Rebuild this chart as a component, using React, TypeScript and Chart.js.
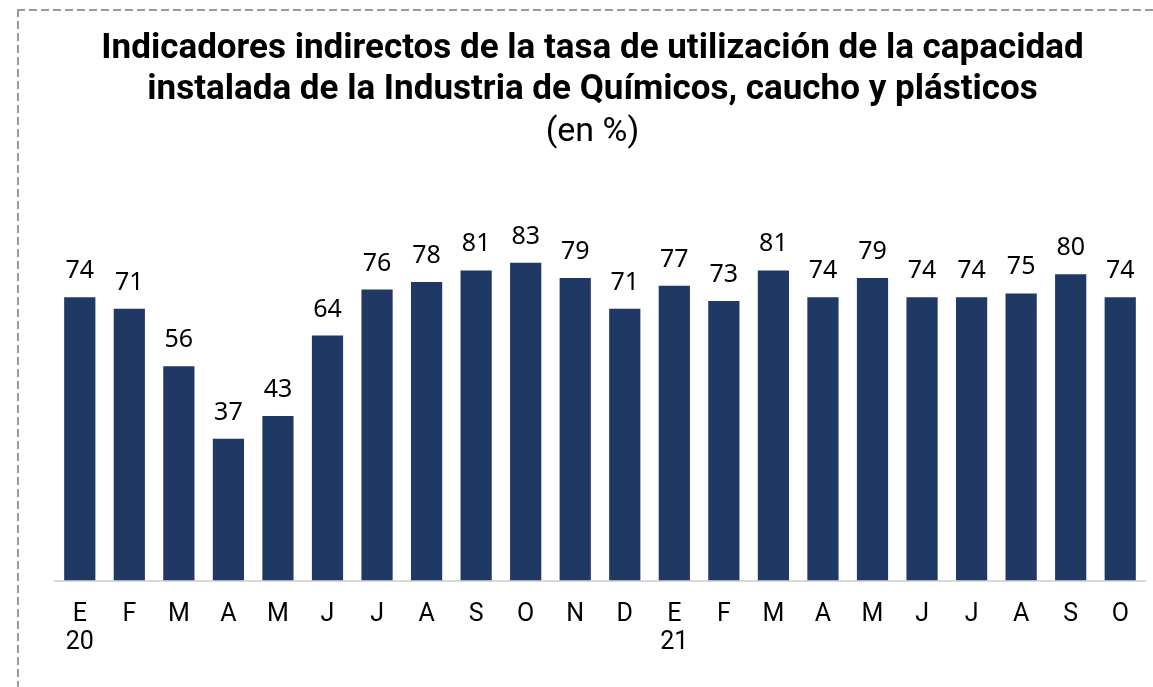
import React, { useEffect, useRef } from "react";
import { Chart, registerables } from "chart.js";

Chart.register(...registerables);

const monthLabels: string[][] = [
  ["E", "20"], ["F"], ["M"], ["A"], ["M"], ["J"], ["J"], ["A"], ["S"], ["O"], ["N"], ["D"],
  ["E", "21"], ["F"], ["M"], ["A"], ["M"], ["J"], ["J"], ["A"], ["S"], ["O"],
];
const values: number[] = [74, 71, 56, 37, 43, 64, 76, 78, 81, 83, 79, 71, 77, 73, 81, 74, 79, 74, 74, 75, 80, 74];
const titleLines: string[] = [
  "Indicadores indirectos de la tasa de utilización de la capacidad",
  "instalada de la Industria de Químicos, caucho y plásticos",
];
const subtitleText = "(en %)";

const barLabelPlugin = {
  id: "barLabels",
  afterDatasetsDraw(chart: any) {
    const ctx = chart.ctx;
    const meta = chart.getDatasetMeta(0);
    ctx.save();
    ctx.font = "25px 'Noto Sans', Roboto, sans-serif";
    ctx.fillStyle = "#000000";
    ctx.textAlign = "center";
    ctx.textBaseline = "alphabetic";
    meta.data.forEach((bar: any, i: number) => {
      const v = chart.data.datasets[0].data[i];
      ctx.fillText(String(Math.round(v)), bar.x, bar.y - 19);
    });
    ctx.restore();
  },
};

export default function App() {
  const ref = useRef<HTMLCanvasElement>(null);
  useEffect(() => {
    if (!ref.current) return;
    const chart = new Chart(ref.current, {
      type: "bar",
      data: {
        labels: monthLabels,
        datasets: [
          {
            data: values,
            backgroundColor: "#203864",
            categoryPercentage: 1,
            barPercentage: 0.63,
          },
        ],
      },
      options: {
        animation: false,
        responsive: false,
        layout: { padding: { left: 21, right: 22, top: 0, bottom: 10 } },
        plugins: {
          legend: { display: false },
          tooltip: { enabled: false },
          title: {
            display: true,
            text: titleLines,
            color: "#000000",
            font: { family: "Roboto", size: 35, weight: "bold", lineHeight: 1.17 },
            padding: { top: 18, bottom: 0 },
          },
          subtitle: {
            display: true,
            text: subtitleText,
            color: "#000000",
            font: { family: "Roboto", size: 34, weight: "normal", lineHeight: 1.2 },
            padding: { top: 1, bottom: 45 },
          },
        },
        scales: {
          x: {
            grid: { display: false, drawTicks: false },
            border: { display: true, color: "#d9d9d9", width: 2 },
            ticks: {
              color: "#000000",
              font: { family: "Roboto", size: 25, lineHeight: 1.15 },
              padding: 19.5,
              maxRotation: 0,
              autoSkip: false,
            },
          },
          y: {
            display: true,
            min: 0,
            max: 100,
            grid: { display: false, drawTicks: false },
            border: { display: false },
            ticks: { display: false },
            afterFit: (scale: any) => {
              scale.width = 15;
            },
          },
        },
      },
      plugins: [barLabelPlugin],
    });
    return () => chart.destroy();
  }, []);

  const dashH = "repeating-linear-gradient(to right, #9a9a9a 0px, #9a9a9a 8px, transparent 8px, transparent 12px)";
  const dashV = "repeating-linear-gradient(to bottom, #9a9a9a 0px, #9a9a9a 8px, transparent 8px, transparent 12px)";

  return (
    <div style={{ position: "fixed", left: 0, top: 0, width: "100vw", height: "100vh", overflow: "hidden", background: "#ffffff" }}>
      <div style={{ position: "absolute", left: 17, top: 9, width: 1300, height: 2, backgroundImage: dashH }} />
      <div style={{ position: "absolute", left: 17, top: 9, width: 2, height: 700, backgroundImage: dashV }} />
      <canvas
        ref={ref}
        width={1148}
        height={676}
        style={{ position: "absolute", left: 19, top: 11, width: 1148, height: 676 }}
      />
    </div>
  );
}
